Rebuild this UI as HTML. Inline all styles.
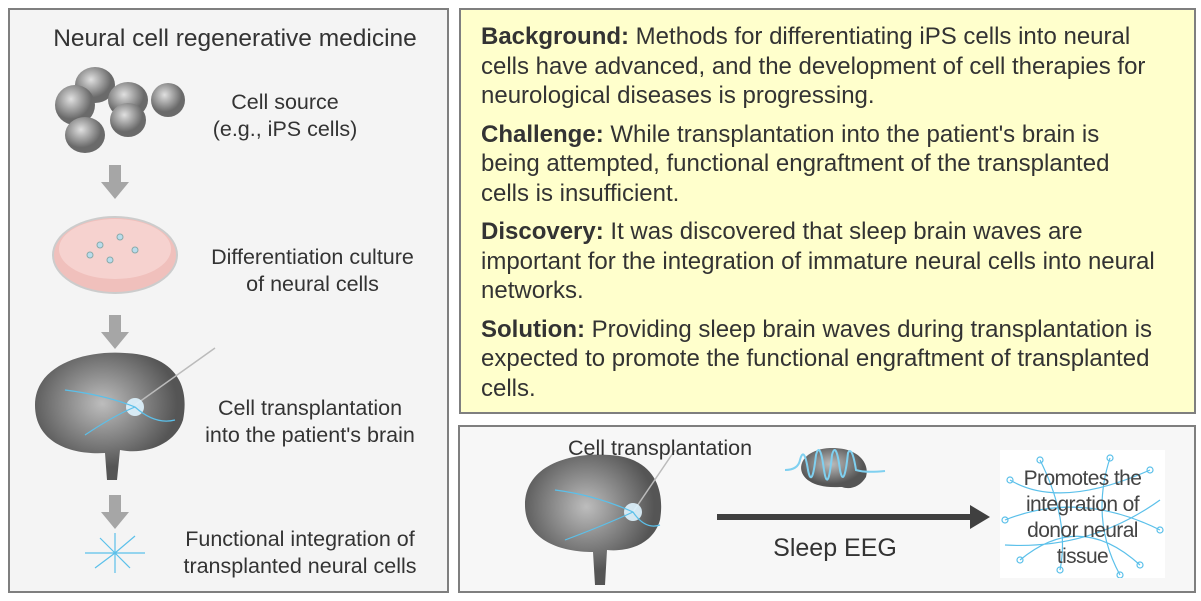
<!DOCTYPE html>
<html><head><meta charset="utf-8"><style>
body{margin:0;width:1201px;height:601px;background:#fff;position:relative;font-family:"Liberation Sans",sans-serif;color:#333;overflow:hidden}
.box{position:absolute;box-sizing:border-box;border:2px solid #7f7f7f}
.t{position:absolute;text-align:center;font-size:21.5px;line-height:27px;color:#333;white-space:nowrap}
p{margin:0 0 9px 0;white-space:nowrap}
</style></head><body>
<div class="box" style="left:8px;top:8px;width:441px;height:585px;background:#f4f4f4"></div>
<div class="t" style="left:30px;top:25px;width:410px;font-size:24.5px">Neural cell regenerative medicine</div>
<svg style="position:absolute;left:50px;top:60px" width="140" height="100">
<defs><radialGradient id="g" cx="40%" cy="35%"><stop offset="0" stop-color="#e0e0e0"/><stop offset="1" stop-color="#6a6a6a"/></radialGradient></defs>
<ellipse cx="45" cy="25" rx="20" ry="18" fill="url(#g)"/>
<ellipse cx="25" cy="45" rx="20" ry="20" fill="url(#g)"/>
<ellipse cx="78" cy="40" rx="20" ry="18" fill="url(#g)"/>
<ellipse cx="78" cy="60" rx="18" ry="17" fill="url(#g)"/>
<ellipse cx="35" cy="75" rx="20" ry="18" fill="url(#g)"/>
<ellipse cx="118" cy="40" rx="17" ry="17" fill="url(#g)"/>
</svg>
<div class="t" style="left:190px;top:89px;width:190px">Cell source<br>(e.g., iPS cells)</div>
<svg style="position:absolute;left:100px;top:165px" width="30" height="35"><path d="M9 0h12v17h8L15 34 1 17h8z" fill="#a6a6a6"/></svg>
<svg style="position:absolute;left:50px;top:205px" width="130" height="95">
<ellipse cx="65" cy="50" rx="62" ry="38" fill="#f0c0bc" stroke="#ccc" stroke-width="2"/>
<ellipse cx="65" cy="44" rx="56" ry="30" fill="#f6d2cf"/>
<g stroke="#8aa" stroke-width="1" fill="#b9dcec"><circle cx="50" cy="40" r="3"/><circle cx="70" cy="32" r="3"/><circle cx="85" cy="45" r="3"/><circle cx="60" cy="55" r="3"/><circle cx="40" cy="50" r="3"/></g>
</svg>
<div class="t" style="left:190px;top:244px;width:245px">Differentiation culture<br>of neural cells</div>
<svg style="position:absolute;left:100px;top:315px" width="30" height="35"><path d="M9 0h12v17h8L15 34 1 17h8z" fill="#a6a6a6"/></svg>
<svg style="position:absolute;left:25px;top:345px" width="195" height="140">
<defs><radialGradient id="b" cx="45%" cy="40%"><stop offset="0" stop-color="#bdbdbd"/><stop offset="1" stop-color="#555"/></radialGradient></defs>
<path d="M10 60 C10 20 60 5 100 8 C150 10 165 40 158 75 C150 100 120 110 95 105 L92 135 L82 135 L80 108 C50 110 10 100 10 60z" fill="url(#b)"/>
<line x1="110" y1="60" x2="190" y2="3" stroke="#bbb" stroke-width="1.5"/>
<circle cx="110" cy="62" r="9" fill="#dff4ff" opacity=".9"/>
<g stroke="#5bc0ea" fill="none" stroke-width="1.2"><path d="M40 45 Q80 50 110 62 Q130 80 150 75"/><path d="M60 90 Q90 70 110 62"/></g>
</svg>
<div class="t" style="left:180px;top:395px;width:260px">Cell transplantation<br>into the patient's brain</div>
<svg style="position:absolute;left:100px;top:495px" width="30" height="35"><path d="M9 0h12v17h8L15 34 1 17h8z" fill="#a6a6a6"/></svg>
<svg style="position:absolute;left:80px;top:528px" width="70" height="50"><g stroke="#5bc0ea" fill="none" stroke-width="1.2"><path d="M5 25 H65 M20 10 L35 25 L50 40 M15 40 L35 25 L55 8 M35 5 V45"/></g></svg>
<div class="t" style="left:165px;top:526px;width:270px">Functional integration of<br>transplanted neural cells</div>

<div class="box" style="left:459px;top:8px;width:737px;height:406px;background:#ffffcc"></div>
<div style="position:absolute;left:481px;top:22px;width:710px;font-size:24px;line-height:29.5px;color:#333">
<p><b>Background:</b> Methods for differentiating iPS cells into neural<br>cells have advanced, and the development of cell therapies for<br>neurological diseases is progressing.</p>
<p><b>Challenge:</b> While transplantation into the patient's brain is<br>being attempted, functional engraftment of the transplanted<br>cells is insufficient.</p>
<p><b>Discovery:</b> It was discovered that sleep brain waves are<br>important for the integration of immature neural cells into neural<br>networks.</p>
<p><b>Solution:</b> Providing sleep brain waves during transplantation is<br>expected to promote the functional engraftment of transplanted<br>cells.</p>
</div>

<div class="box" style="left:458px;top:425px;width:738px;height:168px;background:#f7f7f7"></div>
<svg style="position:absolute;left:515px;top:440px" width="170" height="150">
<path d="M10 65 C10 25 55 12 95 15 C140 18 150 50 145 80 C138 105 112 112 92 110 L90 145 L80 145 L78 112 C45 112 10 100 10 65z" fill="url(#b)"/>
<line x1="118" y1="72" x2="160" y2="10" stroke="#bbb" stroke-width="1.5"/>
<circle cx="118" cy="72" r="9" fill="#dff4ff" opacity=".9"/>
<g stroke="#5bc0ea" fill="none" stroke-width="1.2"><path d="M40 50 Q80 55 118 72 Q130 90 145 85"/><path d="M50 100 Q90 85 118 72"/></g>
</svg>
<div class="t" style="left:550px;top:435px;width:220px">Cell transplantation</div>
<svg style="position:absolute;left:690px;top:445px" width="230" height="50">
<path d="M150 42 C100 45 100 5 140 3 C170 2 180 20 176 32 C170 42 160 45 152 42z" fill="url(#b)"/>
<path d="M95 25 Q108 25 110 15 Q114 0 118 25 Q122 45 126 10 Q130 -5 134 25 Q138 50 142 10 Q146 -5 150 25 Q154 45 158 8 Q162 0 166 25 Q175 28 195 26" stroke="#7fd0f0" stroke-width="2" fill="none"/>
</svg>
<div style="position:absolute;left:717px;top:514px;width:255px;height:6px;background:#404040"></div>
<svg style="position:absolute;left:970px;top:505px" width="20" height="24"><path d="M0 0 L20 12 L0 24z" fill="#404040"/></svg>
<div class="t" style="left:745px;top:535px;width:180px;font-size:25px">Sleep EEG</div>
<svg style="position:absolute;left:1000px;top:450px" width="165" height="128">
<rect width="165" height="128" fill="#fff"/>
<g stroke="#5bc0ea" fill="none" stroke-width="1.2">
<path d="M10 30 Q60 60 150 20 M5 70 Q80 40 160 80 M20 110 Q80 60 140 115 M40 10 Q70 70 60 120 M110 8 Q90 70 120 125 M5 95 Q90 100 160 50"/>
<circle cx="10" cy="30" r="3"/><circle cx="150" cy="20" r="3"/><circle cx="5" cy="70" r="3"/><circle cx="160" cy="80" r="3"/><circle cx="20" cy="110" r="3"/><circle cx="140" cy="115" r="3"/><circle cx="40" cy="10" r="3"/><circle cx="110" cy="8" r="3"/><circle cx="60" cy="120" r="3"/><circle cx="120" cy="125" r="3"/></g>
</svg>
<div class="t" style="left:1000px;top:466px;width:165px;font-size:21px;line-height:26px;color:#444;letter-spacing:-0.6px">Promotes the<br>integration of<br>donor neural<br>tissue</div>
</body></html>
